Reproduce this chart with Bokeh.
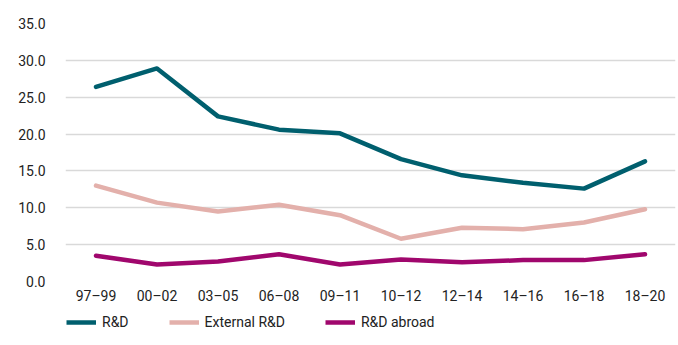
from bokeh.plotting import figure
from bokeh.layouts import column
from bokeh.models import FactorRange, Range1d, Legend, LegendItem, NumeralTickFormatter
from bokeh.embed import file_html
from bokeh.resources import INLINE

periods = ["97–99", "00–02", "03–05", "06–08", "09–11", "10–12", "12–14", "14–16", "16–18", "18–20"]
rnd = [26.4, 28.9, 22.4, 20.6, 20.1, 16.6, 14.4, 13.4, 12.6, 16.3]
external_rnd = [13.0, 10.7, 9.5, 10.4, 9.0, 5.8, 7.3, 7.1, 8.0, 9.8]
rnd_abroad = [3.5, 2.3, 2.7, 3.7, 2.3, 3.0, 2.6, 2.9, 2.9, 3.7]
series_names = ["R&D", "External R&D", "R&D abroad"]
colors = ["#005f6e", "#e3b0ab", "#a0076d"]

FONT = "Roboto"
LW = 4.5

p = figure(x_range=FactorRange(*periods, range_padding=0), y_range=Range1d(0, 35),
           width=678, height=312, output_backend="svg", toolbar_location=None,
           min_border_left=65, min_border_right=3, min_border_top=23, min_border_bottom=31)

for vals, c in zip([rnd, external_rnd, rnd_abroad], colors):
    p.line(periods, vals, line_color=c, line_width=LW, line_join="round", line_cap="round")

p.outline_line_color = None
p.xgrid.grid_line_color = None
p.ygrid.grid_line_color = "#d9d9d9"
p.ygrid.grid_line_width = 1.5
p.yaxis.ticker = [0, 5, 10, 15, 20, 25, 30, 35]
p.yaxis.formatter = NumeralTickFormatter(format="0.0")
for ax in (p.xaxis[0], p.yaxis[0]):
    ax.axis_line_color = None
    ax.major_tick_line_color = None
    ax.minor_tick_line_color = None
    ax.major_label_text_font = FONT
    ax.major_label_text_font_size = "14px"
    ax.major_label_text_color = "#222222"
p.yaxis.major_label_standoff = 14
p.xaxis.major_label_standoff = 0

# legend strip
q = figure(width=678, height=33, x_range=Range1d(0, 1), y_range=Range1d(0, 1),
           output_backend="svg", toolbar_location=None,
           x_axis_location=None, y_axis_location=None,
           min_border_left=0, min_border_right=0, min_border_top=0, min_border_bottom=0)
q.grid.visible = False
q.outline_line_color = None
legend_renderers = [q.line(x=[5, 6], y=[5, 6], line_color=c, line_width=LW) for c in colors]
legend = Legend(items=[LegendItem(label=n, renderers=[r]) for n, r in zip(series_names, legend_renderers)],
                orientation="horizontal", location=(1, 15),
                glyph_width=30, glyph_height=14, label_standoff=6, spacing=40,
                label_text_font=FONT, label_text_font_size="14px", label_text_color="#222222",
                border_line_color=None, background_fill_alpha=0, padding=0, margin=0)
q.add_layout(legend, "center")

layout = column(p, q, spacing=0)
open("out.html", "w").write(file_html(layout, INLINE))
